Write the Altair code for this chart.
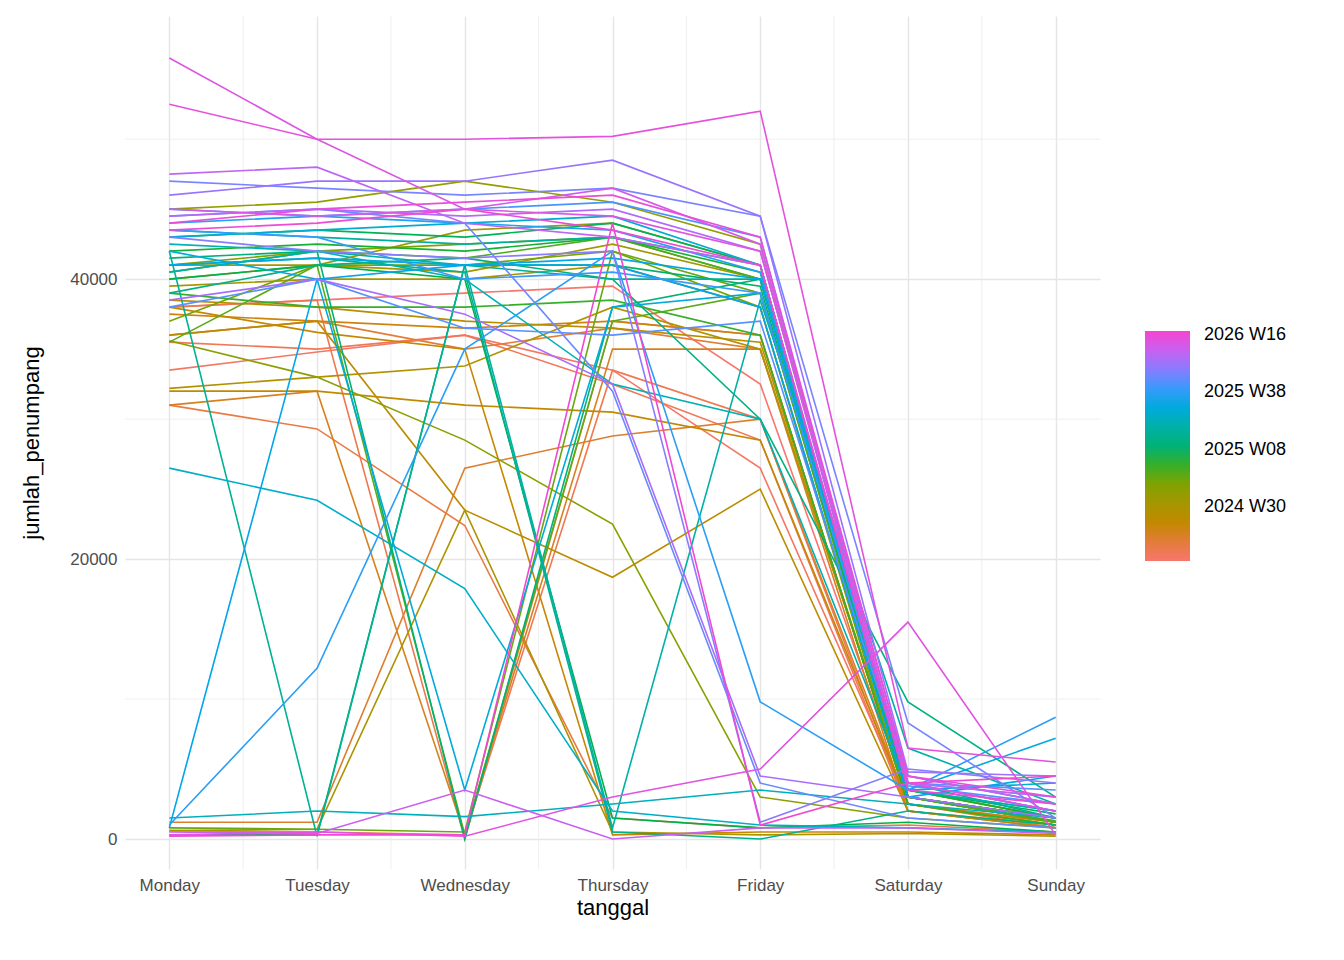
import altair as alt
import pandas as pd

days = ["Monday","Tuesday","Wednesday","Thursday","Friday","Saturday","Sunday"]
weeks = [0,2,4,5,6,8,10,12,14,16,18,20,22,24,26,28,30,32,34,36,38,40,42,44,46,48,50,52,54,56,58,60,62,64,66,68,70,72,74,76,78,80,82,84,86,88,90,92,94,96,98,100,102,104,106,108,110,112,114,115,116,117,118,119]
values = [
[38000,38500,39000,39500,32500,3000,1500],
[33500,34800,36000,33500,26500,2500,1000],
[35500,35000,36000,32500,28500,2000,800],
[600,500,300,33500,30000,2000,800],
[38000,38500,0,37000,36000,2500,1200],
[31000,29300,22400,1500,800,1000,500],
[36000,37000,35000,36500,35000,3000,1500],
[1200,1200,26500,28800,30000,2500,800],
[31000,32000,300,35000,35000,2000,1000],
[37500,37000,36500,37000,36000,2500,1200],
[38000,36200,35000,300,500,500,300],
[32000,32000,31000,30500,28500,2500,1000],
[36000,37000,23500,18700,25000,2000,800],
[38500,38000,37000,36500,35500,3000,1500],
[32200,33000,33800,38000,35000,3000,1200],
[600,700,23500,500,300,400,200],
[39500,40000,40000,41000,38000,3000,1500],
[41000,41000,40500,42500,40000,3500,1500],
[40000,41000,43500,44000,41000,3000,1200],
[45000,45500,47000,45500,42500,3500,1500],
[35600,33000,28500,22500,3000,1500,800],
[41000,42000,42500,43000,40000,3000,1200],
[37000,41000,41000,42000,38000,2500,1000],
[800,700,500,42000,39000,3000,1200],
[35500,41000,300,37000,39000,3000,1200],
[40500,42000,41500,43000,40000,3000,1300],
[39000,38000,38000,38500,36000,2500,1000],
[42000,42500,42000,43000,40500,3500,1500],
[40000,41000,40000,1500,800,1200,500],
[43000,43500,43000,44000,41000,3500,1800],
[300,300,41000,41000,39500,3000,1500],
[41500,42000,0,38000,40000,3000,1500],
[39000,41000,41500,40000,30000,9800,3000],
[41000,41500,40500,500,0,2000,1000],
[42000,200,41000,40000,40000,4000,1500],
[43500,43000,42500,43000,41000,3500,2000],
[40500,42000,41000,800,38500,6500,2500],
[42500,42000,40000,32500,30000,3500,2000],
[1500,2000,1600,2500,3500,2500,1500],
[26500,24200,17900,2000,1000,800,500],
[43000,43500,44000,44500,41000,3500,4000],
[42000,40000,3500,38000,39000,4500,2500],
[41000,41500,41000,41500,40000,3500,7200],
[800,40000,41000,41000,38000,3000,4500],
[44000,44500,44000,43500,40500,4000,2000],
[1000,12200,35000,42000,9800,3500,8700],
[43500,43000,40000,40500,39000,4000,3000],
[45000,44500,45000,45500,43000,3800,2500],
[38000,40000,36500,36000,37000,4000,3500],
[44500,45000,44000,32000,4000,1500,800],
[47000,46500,46000,46500,44500,8300,1500],
[43000,42000,41500,42000,1200,5000,4000],
[46000,47000,47000,48500,44500,4800,4500],
[38500,40000,37500,32500,4500,3000,1500],
[44500,45000,44500,45000,42000,4000,2000],
[47500,48000,44000,43000,41000,4000,3000],
[500,400,3500,0,800,800,400],
[45000,44500,45000,46500,42500,4500,2500],
[55800,50000,45000,44500,42000,4000,2000],
[300,500,200,3000,5000,15500,300],
[52500,50000,50000,50200,52000,6500,5500],
[44000,45000,45500,46000,43000,4500,3000],
[43500,44000,45000,43500,41000,3500,2500],
[200,300,300,44000,1000,4000,4500],
]
legend_vals = [28, 58, 88, 118]
legend_labels = ["2024 W30", "2025 W08", "2025 W38", "2026 W16"]

rows = []
for w, vs in zip(weeks, values):
    for i, v in enumerate(vs):
        rows.append({"week": w, "day": i, "jumlah_penumpang": v})
df = pd.DataFrame(rows)

lab = "{" + ",".join(f"'{k}':'{l}'" for k, l in zip(legend_vals, legend_labels)) + "}"
daynames = "[" + ",".join(f"'{d}'" for d in days) + "]"

xs = alt.Scale(domain=[-0.3, 6.3], nice=False, zero=False)
ys = alt.Scale(domain=[-2140, 58800], nice=False, zero=False)

minor_x = pd.DataFrame({"x": [0.5, 1.5, 2.5, 3.5, 4.5, 5.5]})
minor_y = pd.DataFrame({"y": [10000, 30000, 50000]})

gx = alt.Chart(minor_x).mark_rule(color="#ebebeb", strokeWidth=0.8).encode(x=alt.X("x:Q", scale=xs))
gy = alt.Chart(minor_y).mark_rule(color="#ebebeb", strokeWidth=0.8).encode(y=alt.Y("y:Q", scale=ys))

lines = alt.Chart(df).mark_line(strokeWidth=1.6).encode(
    x=alt.X("day:Q", scale=xs, title="tanggal",
            axis=alt.Axis(values=list(range(7)), labelExpr=f"{daynames}[datum.value]",
                          grid=True, gridColor="#e5e5e5", gridWidth=1.4, labelPadding=8)),
    y=alt.Y("jumlah_penumpang:Q", scale=ys, title="jumlah_penumpang",
            axis=alt.Axis(values=[0, 20000, 40000], format="d", grid=True, gridColor="#e5e5e5",
                          gridWidth=1.4, labelPadding=8, titlePadding=26)),
    color=alt.Color("week:Q",
        scale=alt.Scale(domain=[0, 120], range=["#F8766D", "#C98500", "#9A9A00", "#1FB030", "#00B0A0", "#1EA2F0", "#A070FF", "#F545CF"]),
        legend=alt.Legend(title=None, values=legend_vals, labelExpr=f"{lab}[datum.value]",
                          gradientLength=230, gradientThickness=45, labelFontSize=18, labelOffset=14,
                          labelColor="#000", gradientStrokeWidth=0, direction="vertical",
                          orient="none", legendX=1020, legendY=315)),
    detail="week:N",
    order="week:Q",
)

chart = (gx + gy + lines).properties(width=975, height=853, padding={"left": 12, "top": 7, "right": 5, "bottom": 5}).configure_view(stroke=None).configure_axis(
    domain=False, ticks=False, labelFontSize=17, labelColor="#4d4d4d", titleFontSize=22,
    titleFontWeight="normal", titleColor="#000", labelFont="Liberation Sans", titleFont="Liberation Sans"
).configure_legend(labelFont="Liberation Sans")

chart.save("out.html", embed_options={"renderer": "svg", "actions": False})
